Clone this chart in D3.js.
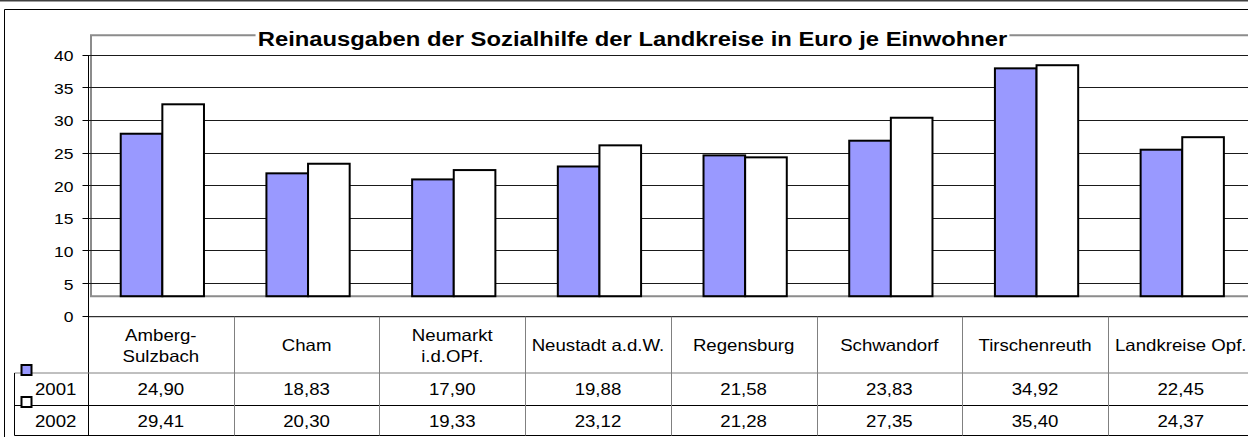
<!DOCTYPE html>
<html>
<head>
<meta charset="utf-8">
<script src="https://cdn.jsdelivr.net/npm/d3@7"></script>
<style>
  html, body { margin: 0; padding: 0; background: #fff; }
  svg { display: block; }
  text { font-family: "Liberation Sans", Arial, sans-serif; fill: #000; }
</style>
</head>
<body>
<script>
// ---- data ----
const categories = [
  ["Amberg-", "Sulzbach"],
  ["Cham"],
  ["Neumarkt", "i.d.OPf."],
  ["Neustadt a.d.W."],
  ["Regensburg"],
  ["Schwandorf"],
  ["Tirschenreuth"],
  ["Landkreise Opf."]
];
const seriesNames = ["2001", "2002"];
const values2001 = [24.90, 18.83, 17.90, 19.88, 21.58, 23.83, 34.92, 22.45];
const values2002 = [29.41, 20.30, 19.33, 23.12, 21.28, 27.35, 35.40, 24.37];
const yTicks = [0, 5, 10, 15, 20, 25, 30, 35, 40];
const title = "Reinausgaben der Sozialhilfe der Landkreise in Euro je Einwohner";
const seriesColors = ["#9999FF", "#FFFFFF"];

// ---- layout ----
const W = 1248, H = 437;
const plotLeft = 88, colStep = 145.7;
const plotRight = plotLeft + colStep * categories.length;
const yTop = 55.7, yZero = 316.7;
const depthX = 1.5, depthY = 20.5, wallDx = 3;
const sx = 1.13; // horizontal text stretch of the original picture
const rowTop1 = 373, rowTop2 = 405.5, tableBottom = 435.5;

const svg = d3.select("body").append("svg").attr("width", W).attr("height", H);

const catIds = categories.map((c, i) => i);
const x = d3.scaleBand().domain(catIds).range([plotLeft, plotRight]).paddingInner(0).paddingOuter(0);
const xs = d3.scaleBand().domain(seriesNames).range([0, x.bandwidth()]).paddingInner(0).paddingOuter(0.75);
const y = d3.scaleLinear().domain([0, 40]).range([yZero, yTop]);

const fmt = d3.formatLocale({decimal: ",", thousands: ".", grouping: [3], currency: ["", " €"]}).format(".2f");

function stext(g, px, py, str, size, anchor, weight, stretch) {
  return g.append("text")
    .attr("transform", `translate(${px},${py}) scale(${stretch || sx},1)`)
    .attr("text-anchor", anchor || "middle")
    .style("font-size", size + "px")
    .style("font-weight", weight || "normal")
    .text(str);
}

// outer frame
svg.append("rect").attr("x", 0).attr("y", 0).attr("width", W).attr("height", 1.5).attr("fill", "#404040");
svg.append("line").attr("x1", 4.5).attr("x2", W).attr("y1", 9.5).attr("y2", 9.5).attr("stroke", "#000").attr("stroke-width", 1);
svg.append("line").attr("x1", 4.5).attr("x2", 4.5).attr("y1", 9.5).attr("y2", H).attr("stroke", "#000").attr("stroke-width", 1);

// back wall (3D depth)
const wallG = svg.append("g");
wallG.append("path")
  .attr("d", `M${plotRight + wallDx},${y(40) - depthY} L${plotLeft + wallDx},${y(40) - depthY} L${plotLeft + wallDx},${y(0) - depthY} L${plotRight + wallDx},${y(0) - depthY}`)
  .attr("fill", "none").attr("stroke", "#8c8c8c").attr("stroke-width", 2);

// gridlines
svg.append("g").selectAll("line").data(yTicks.filter(t => t > 0)).join("line")
  .attr("x1", plotLeft).attr("x2", plotRight + wallDx)
  .attr("y1", d => Math.round(y(d)) - 0.5).attr("y2", d => Math.round(y(d)) - 0.5)
  .attr("stroke", "#1a1a1a").attr("stroke-width", 1);

// bars
const seriesValues = [values2001, values2002];
const barG = svg.append("g");
seriesNames.forEach((s, si) => {
  barG.selectAll(null).data(seriesValues[si]).join("rect")
    .attr("x", (d, i) => x(i) + xs(s) + depthX)
    .attr("y", d => y(d) - depthY)
    .attr("width", xs.bandwidth())
    .attr("height", d => y(0) - y(d))
    .attr("fill", seriesColors[si])
    .attr("stroke", "#000").attr("stroke-width", 2);
});

// y axis
const axisG = svg.append("g");
axisG.append("line").attr("x1", plotLeft + 0.5).attr("x2", plotLeft + 0.5)
  .attr("y1", Math.round(y(40)) - 0.5).attr("y2", tableBottom).attr("stroke", "#000");
axisG.selectAll("line.tick").data(yTicks).join("line").attr("class", "tick")
  .attr("x1", plotLeft - 5.5).attr("x2", plotLeft + 0.5)
  .attr("y1", d => Math.round(y(d)) - 0.5).attr("y2", d => Math.round(y(d)) - 0.5)
  .attr("stroke", "#000");
yTicks.forEach(t => stext(axisG, 73.5, y(t) + 5.5, String(t), 15.5, "end"));

// title with white box
const titleG = svg.append("g");
const tBox = titleG.append("rect").attr("fill", "#fff");
const titleStretch = 1.19;
const tText = stext(titleG, 632.5, 46, title, 20, "middle", "bold", titleStretch);
const bb = tText.node().getBBox();
const tw = bb.width * titleStretch;
tBox.attr("x", 632.5 - tw / 2 - 2).attr("y", 46 + bb.y - 1).attr("width", tw + 4).attr("height", bb.height + 2);

// data table
const tableG = svg.append("g");
// horizontal lines
tableG.append("line").attr("x1", plotLeft).attr("x2", W).attr("y1", yZero).attr("y2", yZero).attr("stroke", "#000");
tableG.append("line").attr("x1", 14.5).attr("x2", W).attr("y1", rowTop1).attr("y2", rowTop1).attr("stroke", "#808080");
tableG.append("line").attr("x1", 14.5).attr("x2", W).attr("y1", rowTop2).attr("y2", rowTop2).attr("stroke", "#000");
tableG.append("line").attr("x1", 14.5).attr("x2", W).attr("y1", tableBottom).attr("y2", tableBottom).attr("stroke", "#000");
tableG.append("line").attr("x1", 14.5).attr("x2", 14.5).attr("y1", rowTop1).attr("y2", tableBottom).attr("stroke", "#000");
// column dividers
tableG.selectAll("line.div").data(catIds.slice(1)).join("line").attr("class", "div")
  .attr("x1", d => Math.round(x(d)) + 0.5).attr("x2", d => Math.round(x(d)) + 0.5)
  .attr("y1", yZero).attr("y2", tableBottom).attr("stroke", "#808080");

// category headers
const headerMid = (yZero + rowTop1) / 2;
categories.forEach((lines, i) => {
  const cx = x(i) + x.bandwidth() / 2;
  if (lines.length === 1) {
    stext(tableG, cx, headerMid + 6, lines[0], 16.5);
  } else {
    stext(tableG, cx, headerMid - 4.3, lines[0], 16.5);
    stext(tableG, cx, headerMid + 17.2, lines[1], 16.5);
  }
});
// values
const rowMids = [(rowTop1 + rowTop2) / 2, (rowTop2 + tableBottom) / 2];
seriesNames.forEach((s, si) => {
  seriesValues[si].forEach((v, i) => {
    stext(tableG, x(i) + x.bandwidth() / 2, rowMids[si] + 6, fmt(v), 16.5);
  });
  stext(tableG, 35, rowMids[si] + 6, s, 16.5, "start");
});
// legend keys
const keyY = [365, 397];
seriesNames.forEach((s, si) => {
  tableG.append("rect").attr("x", 21.5).attr("y", keyY[si]).attr("width", 10).attr("height", 10)
    .attr("fill", seriesColors[si]).attr("stroke", "#000").attr("stroke-width", 2);
});
</script>
</body>
</html>
